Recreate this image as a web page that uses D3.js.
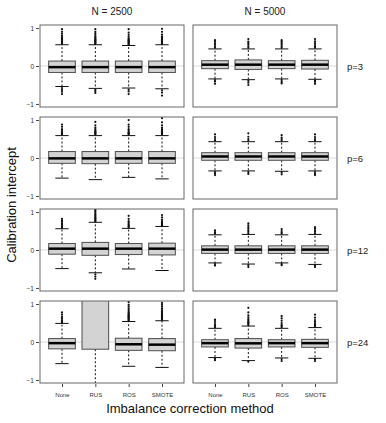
<!DOCTYPE html>
<html>
<head>
<meta charset="utf-8">
<script src="https://cdn.jsdelivr.net/npm/d3@7"></script>
<style>
body { margin: 0; background: #fff; }
text { font-family: "Liberation Sans", Arial, sans-serif; }
</style>
</head>
<body>
<div id="viz"></div>
<script>
// categories
var methods = ['None', 'RUS', 'ROS', 'SMOTE'];
var sizes = ['N = 2500', 'N = 5000'];
var pvals = ['p=3', 'p=6', 'p=12', 'p=24'];
var yTicks = [-1, 0, 1];

// box stats, one row per panel (p3/2500, p3/5000, p6/2500, ...), one value per method
var q1 = [
	[-0.17, -0.17, -0.17, -0.17], [-0.07, -0.09, -0.07, -0.08],
	[-0.14, -0.15, -0.14, -0.14], [-0.06, -0.06, -0.06, -0.06],
	[-0.11, -0.14, -0.12, -0.13], [-0.09, -0.09, -0.09, -0.09],
	[-0.18, -0.19, -0.22, -0.23], [-0.13, -0.16, -0.13, -0.14]
];
var med = [
	[-0.03, -0.03, -0.03, -0.03], [0.035, 0.035, 0.035, 0.035],
	[-0.01, -0.01, -0.01, -0.01], [0.04, 0.04, 0.04, 0.04],
	[0.035, 0.035, 0.035, 0.035], [0.01, 0.01, 0.01, 0.01],
	[-0.03, 2.5, -0.06, -0.07], [-0.03, -0.035, -0.03, -0.03]
];
var q3 = [
	[0.13, 0.13, 0.13, 0.13], [0.14, 0.16, 0.14, 0.15],
	[0.17, 0.17, 0.17, 0.17], [0.14, 0.14, 0.14, 0.14],
	[0.17, 0.20, 0.17, 0.18], [0.11, 0.11, 0.11, 0.11],
	[0.09, 6.0, 0.10, 0.09], [0.06, 0.09, 0.06, 0.07]
];
var whiskLo = [
	[-0.54, -0.59, -0.58, -0.60], [-0.34, -0.36, -0.34, -0.35],
	[-0.53, -0.57, -0.51, -0.55], [-0.34, -0.34, -0.35, -0.34],
	[-0.49, -0.60, -0.50, -0.54], [-0.34, -0.37, -0.34, -0.38],
	[-0.57, -3.0, -0.64, -0.67], [-0.41, -0.49, -0.42, -0.43]
];
var whiskHi = [
	[0.56, 0.56, 0.54, 0.56], [0.45, 0.45, 0.45, 0.45],
	[0.59, 0.59, 0.59, 0.59], [0.43, 0.43, 0.43, 0.43],
	[0.56, 0.73, 0.57, 0.62], [0.40, 0.41, 0.40, 0.41],
	[0.49, 12.0, 0.54, 0.56], [0.36, 0.42, 0.36, 0.38]
];
// outlying points per panel and method
var outHi = [
	[[0.58,0.6,0.62,0.64,0.66,0.68,0.7,0.73,0.76,0.8,0.85,0.9,0.97],
	 [0.58,0.6,0.62,0.64,0.66,0.68,0.7,0.72,0.75,0.78,0.82,0.86,0.9,0.97],
	 [0.56,0.58,0.6,0.62,0.64,0.66,0.68,0.7,0.73,0.77,0.82,0.88,0.97],
	 [0.58,0.6,0.62,0.64,0.66,0.68,0.7,0.72,0.75,0.78,0.83,0.9,0.98]],
	[[0.48,0.52,0.56,0.6,0.65,0.68],[0.48,0.52,0.56,0.6,0.64,0.71],
	 [0.48,0.52,0.56,0.6,0.64,0.68],[0.48,0.51,0.55,0.6,0.65,0.71]],
	[[0.62,0.64,0.66,0.68,0.72,0.76,0.82,0.88],
	 [0.62,0.64,0.66,0.68,0.7,0.72,0.76,0.8,0.86,0.95],
	 [0.62,0.64,0.66,0.68,0.72,0.76,0.82,0.88,1.0],
	 [0.62,0.64,0.66,0.68,0.7,0.73,0.76,0.8,0.86,0.94,1.05]],
	[[0.46,0.5,0.55,0.62],[0.46,0.5,0.56,0.65],[0.46,0.5,0.54,0.6],[0.46,0.5,0.55,0.62]],
	[[0.58,0.6,0.63,0.66,0.7,0.74,0.78,0.82],
	 [0.75,0.77,0.79,0.81,0.83,0.85,0.87,0.9,0.93,0.96,1.0,1.03,1.06],
	 [0.6,0.62,0.65,0.68,0.72,0.76,0.82,0.9],
	 [0.64,0.66,0.68,0.7,0.73,0.76,0.8,0.86,0.92]],
	[[0.43,0.46,0.5,0.52],[0.44,0.48,0.52,0.56,0.6,0.65,0.7],[0.43,0.46,0.5,0.55],[0.44,0.48,0.52,0.56,0.6]],
	[[0.51,0.53,0.55,0.58,0.62,0.66,0.72,0.78],
	 [],
	 [0.56,0.58,0.6,0.62,0.64,0.66,0.68,0.7,0.72,0.74,0.77,0.8,0.84,0.88,0.93,0.98,1.05],
	 [0.58,0.6,0.62,0.64,0.66,0.68,0.7,0.72,0.74,0.77,0.8,0.84,0.88,0.93,0.98,1.03]],
	[[0.39,0.42,0.45,0.5,0.55,0.59],
	 [0.45,0.48,0.5,0.52,0.54,0.57,0.6,0.65,0.7,0.78,0.9],
	 [0.39,0.42,0.45,0.5,0.56,0.62,0.68],
	 [0.41,0.44,0.47,0.5,0.54,0.58,0.64,0.72]]
];
var outLo = [
	[[-0.58,-0.63,-0.68,-0.74],[-0.63,-0.66,-0.71],[-0.62,-0.67,-0.74],[-0.64,-0.7,-0.78]],
	[[-0.37,-0.41,-0.47],[-0.39,-0.44,-0.5],[-0.37,-0.42,-0.46],[-0.38,-0.42,-0.47]],
	[[],[],[],[]],
	[[-0.37,-0.41,-0.45],[-0.37,-0.42],[-0.38,-0.43],[-0.37,-0.42,-0.45]],
	[[],[-0.64,-0.7,-0.76],[],[]],
	[[-0.37,-0.41],[-0.4,-0.45],[-0.37,-0.4],[-0.41,-0.45]],
	[[],[],[],[]],
	[[-0.44,-0.48],[-0.52],[-0.45,-0.5],[-0.46,-0.5]]
];

var width = 386, height = 423;
var colLeft = [40, 193], panelW = 144;
var rowTop = [25, 117, 209, 301], panelH = 82;

var svg = d3.select('#viz').append('svg')
	.attr('width', width)
	.attr('height', height);

pvals.forEach(function(pLabel, r) {
	sizes.forEach(function(nLabel, c) {
		var k = r * 2 + c;
		var x = d3.scaleLinear().domain([0.34, 4.66]).range([colLeft[c], colLeft[c] + panelW]);
		var y = d3.scaleLinear().domain([-1.08, 1.08]).range([rowTop[r] + panelH, rowTop[r]]);
		var boxW = x(1.8) - x(1);

		var g = svg.append('g');
		var clipId = 'clip' + k;
		g.append('clipPath').attr('id', clipId).append('rect')
			.attr('x', colLeft[c]).attr('y', rowTop[r])
			.attr('width', panelW).attr('height', panelH);

		var inner = g.append('g').attr('clip-path', 'url(#' + clipId + ')');

		// reference line at zero
		inner.append('line')
			.attr('x1', colLeft[c]).attr('x2', colLeft[c] + panelW)
			.attr('y1', y(0)).attr('y2', y(0))
			.attr('stroke', '#d9d9d9').attr('stroke-width', 1);

		methods.forEach(function(m, i) {
			var cx = x(i + 1);
			// whiskers
			inner.append('line')
				.attr('x1', cx).attr('x2', cx)
				.attr('y1', y(q3[k][i])).attr('y2', y(whiskHi[k][i]))
				.attr('stroke', '#111').attr('stroke-dasharray', '2,2');
			inner.append('line')
				.attr('x1', cx).attr('x2', cx)
				.attr('y1', y(q1[k][i])).attr('y2', y(whiskLo[k][i]))
				.attr('stroke', '#111').attr('stroke-dasharray', '2,2');
			[whiskHi[k][i], whiskLo[k][i]].forEach(function(v) {
				inner.append('line')
					.attr('x1', cx - boxW / 4).attr('x2', cx + boxW / 4)
					.attr('y1', y(v)).attr('y2', y(v))
					.attr('stroke', '#111').attr('stroke-width', 1);
			});
			// box
			inner.append('rect')
				.attr('x', cx - boxW / 2).attr('width', boxW)
				.attr('y', y(q3[k][i])).attr('height', y(q1[k][i]) - y(q3[k][i]))
				.attr('fill', '#d3d3d3').attr('stroke', '#4d4d4d').attr('stroke-width', 1);
			inner.append('line')
				.attr('x1', cx - boxW / 2).attr('x2', cx + boxW / 2)
				.attr('y1', y(med[k][i])).attr('y2', y(med[k][i]))
				.attr('stroke', '#000').attr('stroke-width', 2.5);
			// outliers
			inner.selectAll('.pt' + i)
				.data(outHi[k][i].concat(outLo[k][i]))
				.enter().append('circle')
				.attr('cx', cx).attr('cy', function(d) { return y(d); })
				.attr('r', 1.1).attr('fill', '#111');
		});

		// panel frame
		g.append('rect')
			.attr('x', colLeft[c]).attr('y', rowTop[r])
			.attr('width', panelW).attr('height', panelH)
			.attr('fill', 'none').attr('stroke', '#666').attr('stroke-width', 1);

		if (c === 0) {
			var ya = g.append('g')
				.attr('transform', 'translate(' + (colLeft[c] - 1) + ',0)')
				.call(d3.axisLeft(y).tickValues(yTicks).tickSize(3).tickPadding(2).tickFormat(d3.format('d')));
			ya.select('.domain').remove();
			ya.selectAll('line').attr('stroke', '#444');
			ya.selectAll('text').attr('font-size', 6.5).attr('fill', '#333')
				.style('font-family', '"Liberation Sans", Arial, sans-serif');
		}
		if (r === pvals.length - 1) {
			var xa = g.append('g')
				.attr('transform', 'translate(0,' + (rowTop[r] + panelH + 1) + ')')
				.call(d3.axisBottom(x).tickValues([1, 2, 3, 4]).tickSize(3).tickPadding(6)
					.tickFormat(function(d) { return methods[d - 1]; }));
			xa.select('.domain').remove();
			xa.selectAll('line').attr('stroke', '#444');
			xa.selectAll('text').attr('font-size', 6).attr('fill', '#333')
				.style('font-family', '"Liberation Sans", Arial, sans-serif');
		}
		if (r === 0) {
			svg.append('text')
				.attr('x', colLeft[c] + panelW / 2).attr('y', 15)
				.attr('text-anchor', 'middle').attr('font-size', 10).attr('fill', '#222')
				.text(nLabel);
		}
		if (c === 1) {
			svg.append('text')
				.attr('x', 347).attr('y', rowTop[r] + panelH / 2 + 3.5)
				.attr('font-size', 9.5).attr('fill', '#222')
				.text(pLabel);
		}
	});
});

// axis titles
svg.append('text')
	.attr('transform', 'translate(16,' + 205 + ') rotate(-90)')
	.attr('text-anchor', 'middle').attr('font-size', 13).attr('fill', '#111')
	.text('Calibration intercept');
svg.append('text')
	.attr('x', 190).attr('y', 413)
	.attr('text-anchor', 'middle').attr('font-size', 13).attr('fill', '#111')
	.text('Imbalance correction method');
</script>
</body>
</html>
